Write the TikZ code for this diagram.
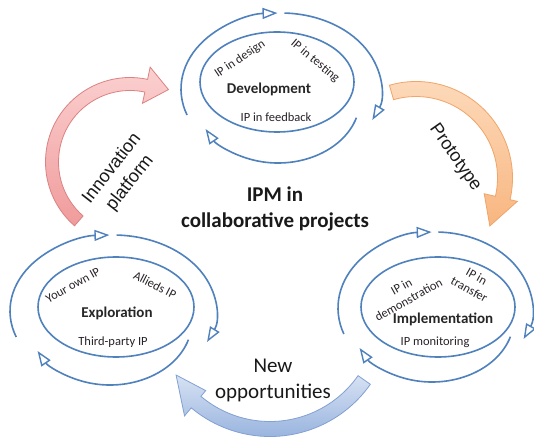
\documentclass[tikz,border=0pt]{standalone}
\usepackage{fontspec}
\setmainfont{Carlito}
\newfontfamily\arialfont{Liberation Sans}
\usetikzlibrary{arrows.meta}
\definecolor{ringblue}{RGB}{79,129,189}
\definecolor{redline}{RGB}{220,130,130}
\definecolor{reddark}{RGB}{240,155,155}
\definecolor{redlight}{RGB}{251,208,208}
\definecolor{orline}{RGB}{240,165,105}
\definecolor{ordark}{RGB}{248,182,128}
\definecolor{orlight}{RGB}{253,220,190}
\definecolor{blline}{RGB}{130,160,210}
\definecolor{bldark}{RGB}{150,178,222}
\definecolor{bllight}{RGB}{215,226,243}
\definecolor{txtdark}{RGB}{40,35,40}
\newcommand{\ipmcycle}[3]{%
  \begin{scope}[shift={(#1,#2)}]
    \draw[ring,ringtip] (200:#3 and 76) arc[start angle=200,end angle=92,x radius=#3,y radius=76];
    \draw[ring,ringtip] (88:#3 and 76) arc[start angle=88,end angle=-24,x radius=#3,y radius=76];
    \begin{scope}[shift={(-3,-10)}]
      \draw[ring,ringtip] (-17:82 and 64) arc[start angle=-17,end angle=-152,x radius=82,y radius=64];
    \end{scope}
  \end{scope}}
\begin{document}
\begin{tikzpicture}[x=1pt,y=1pt,
  ring/.style={draw=ringblue,line width=1.6pt},
  ringtip/.style={-{Triangle[open,length=15pt,width=11pt,line width=1.4pt]}},
  small/.style={font=\fontsize{12.5}{15}\selectfont,text=txtdark,inner sep=0pt},
  stage/.style={font=\fontsize{15}{17}\selectfont\bfseries,text=black!85,inner sep=0pt},
  big/.style={font=\fontsize{21}{26}\selectfont,text=black!90,inner sep=0pt,align=center},
  arrlabel/.style={font=\arialfont\fontsize{18}{23}\selectfont,text=black!90,inner sep=0pt,align=center}]
\useasboundingbox (0,0) rectangle (534,439);
\fill[white] (0,0) rectangle (534,439);

% big curved arrows
\begin{scope}[shift={(130,277)}]
  \shadedraw[draw=redline,line width=0.8pt,shading angle=45,top color=redlight,bottom color=reddark]
    (229:84.5) arc[start angle=229,end angle=78,radius=84.5] -- (78:97) -- (62:82) -- (78:60)
    -- (78:71.5) arc[start angle=78,end angle=229,radius=71.5] -- cycle;
\end{scope}
\begin{scope}[shift={(416,261)}]
  \shadedraw[draw=orline,line width=0.8pt,shading angle=-45,top color=orlight,bottom color=ordark]
    (106:96.5) arc[start angle=106,end angle=-13,radius=96.5] -- (-13:104) -- (-33:88) -- (-13:70)
    -- (-13:81.5) arc[start angle=-13,end angle=106,radius=81.5] -- cycle;
\end{scope}
\begin{scope}[shift={(270,125)}]
  \shadedraw[draw=blline,line width=0.8pt,top color=bllight,bottom color=bldark]
    (-35:122.5) arc[start angle=-35,end angle=-130,radius=122.5] -- (-130:133) -- (-147:112) -- (-130:100)
    -- (-130:107.5) arc[start angle=-130,end angle=-35,radius=107.5] -- cycle;
\end{scope}

% cycles
\ipmcycle{281}{350}{100}
\ipmcycle{113}{128}{103}
\ipmcycle{435}{131}{97}

% inner ellipses
\draw[ring] (277,357) ellipse[x radius=77,y radius=50];
\draw[ring] (116,132) ellipse[x radius=78,y radius=50];
\draw[ring] (438,132) ellipse[x radius=77,y radius=50];

% development
\node[stage] (dev) at (269,350) {Development};
\node[small,rotate=34] (design) at (240,380) {IP in design};
\node[small,rotate=-40] (testing) at (315,378) {IP in testing};
\node[small] (feedback) at (276,322) {IP in feedback};

% exploration
\node[stage] (expl) at (117,126) {Exploration};
\node[small,rotate=29] (own) at (73,154) {Your own IP};
\node[small,rotate=-27] (allied) at (155,154) {Allieds IP};
\node[small] (third) at (113,97) {Third-party IP};

% implementation
\node[stage] (impl) at (443,120) {Implementation};
\node[small,rotate=29,align=center] (demo) at (405,146) {IP in\\demonstration};
\node[small,rotate=-29,align=center] (transfer) at (473,156) {IP in\\transfer};
\node[small] (monit) at (435,97) {IP monitoring};

% centre title
\node[big,font=\fontsize{21}{26}\selectfont\bfseries] (title) at (275,230) {IPM in\\collaborative projects};

% arrow labels
\node[arrlabel,rotate=52] (innov) at (121,263) {Innovation\\platform};
\node[arrlabel,rotate=-55] (proto) at (455,281) {Prototype};
\node[big] (newop) at (273,59) {New\\opportunities};
\end{tikzpicture}
\end{document}
